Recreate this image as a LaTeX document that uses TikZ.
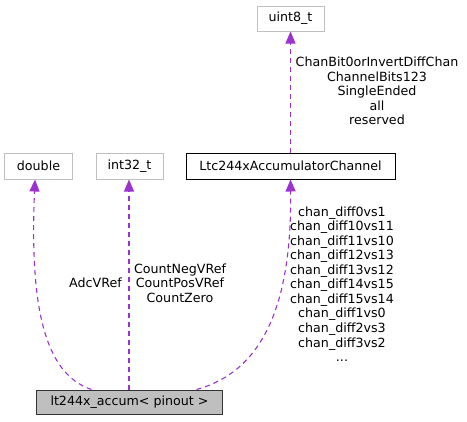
\documentclass[tikz,border=0pt]{standalone}
\usepackage{fontspec}
\setmainfont{DejaVu Sans}
\usetikzlibrary{arrows.meta}
\definecolor{edgecol}{HTML}{9A32CD}
\definecolor{graybox}{HTML}{BFBFBF}
\tikzset{
  base/.style={draw, line width=1bp, inner sep=0pt, font=\fontsize{12.7}{14.6}\selectfont, text=black},
  extbox/.style={base, draw=graybox, fill=white},
  classbox/.style={base, draw=black, fill=white},
  mainbox/.style={base, draw=black!80, fill=graybox},
  lbl/.style={inner sep=0pt, align=center, font=\fontsize{12.7}{14.6}\selectfont},
  conn/.style={color=edgecol, line width=1.1bp, dash pattern=on 5bp off 4bp, -{Triangle[length=12bp,width=10bp]}}
}
\begin{document}
\begin{tikzpicture}[x=1bp,y=-1bp]
\useasboundingbox (0,0) rectangle (467,421);
\node[extbox, minimum width=67bp, minimum height=25bp] (uint8) at (290.5,18.5) {uint8\_t};
\node[classbox, minimum width=209bp, minimum height=26bp] (ltc) at (290.5,166) {Ltc244xAccumulatorChannel};
\node[extbox, minimum width=67bp, minimum height=26bp] (dbl) at (38.5,166) {double};
\node[extbox, minimum width=67bp, minimum height=26bp] (int32) at (129.5,166) {int32\_t};
\node[mainbox, minimum width=185bp, minimum height=24bp] (lt) at (129.5,402) {lt244x\_accum< pinout >};

\node[lbl] (l1) at (377,91) {ChanBit0orInvertDiffChan\\ChannelBits123\\SingleEnded\\all\\reserved};
\node[lbl] (l2) at (95.5,283) {AdcVRef};
\node[lbl] (l3) at (180,283) {CountNegVRef\\CountPosVRef\\CountZero};
\node[lbl] (l4) at (342,284) {chan\_diff0vs1\\chan\_diff10vs11\\chan\_diff11vs10\\chan\_diff12vs13\\chan\_diff13vs12\\chan\_diff14vs15\\chan\_diff15vs14\\chan\_diff1vs0\\chan\_diff2vs3\\chan\_diff3vs2\\...};

\draw[conn] (ltc.north) -- (uint8.south);
\draw[conn] ([xshift=-0.5bp]lt.north) -- ([xshift=-0.5bp]int32.south);
\draw[conn] ([xshift=55bp]lt.north west) .. controls (42,373) and (30,300) .. ([xshift=-3.5bp]dbl.south);
\draw[conn] ([xshift=160bp]lt.north west) .. controls (260,372) and (292,310) .. (ltc.south);
\end{tikzpicture}
\end{document}
